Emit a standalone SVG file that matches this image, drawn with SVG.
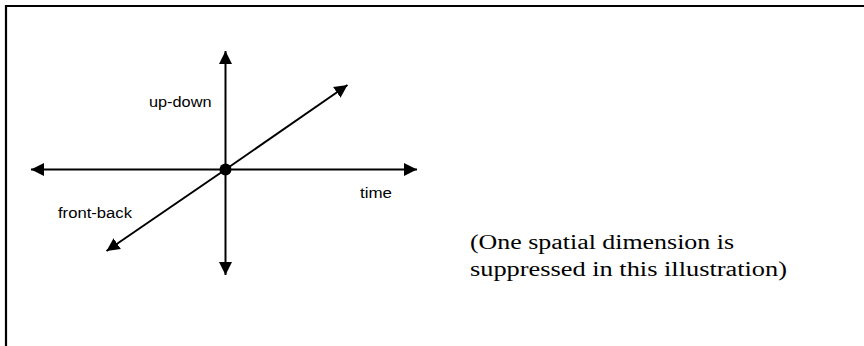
<svg xmlns="http://www.w3.org/2000/svg" width="864" height="346" viewBox="0 0 864 346">
  <defs>
    <style>
      .axis { stroke: #000; stroke-width: 2; fill: none; marker-end: url(#arrow); }
      .lbl { font-family: "Liberation Sans", Arial, sans-serif; font-size: 15.5px; fill: #000; }
      .note { font-family: "Liberation Serif", "Times New Roman", serif; font-size: 20.5px; fill: #000; }
    </style>
    <marker id="arrow" markerUnits="userSpaceOnUse" markerWidth="14" markerHeight="14" viewBox="0 0 14 14" refX="13" refY="7" orient="auto">
      <path d="M0,0.5 L13,7 L0,13.5 Z" fill="#000"/>
    </marker>
  </defs>
  <rect width="864" height="346" fill="#fff"/>
  <g id="frame">
    <path d="M6 348 V6 H866" stroke="#000" stroke-width="2.2" fill="none"/>
  </g>
  <g id="connectors">
    <line class="axis" x1="225.5" y1="169.5" x2="417" y2="169.5"/>
    <line class="axis" x1="225.5" y1="169.5" x2="31" y2="169.5"/>
    <line class="axis" x1="225.5" y1="169.5" x2="225.5" y2="51"/>
    <line class="axis" x1="225.5" y1="169.5" x2="225.5" y2="275"/>
    <line class="axis" x1="225.5" y1="169.5" x2="347.5" y2="85"/>
    <line class="axis" x1="225.5" y1="169.5" x2="106.5" y2="251"/>
  </g>
  <g id="origin">
    <circle cx="225.5" cy="169.5" r="6" fill="#000"/>
  </g>
  <g id="label-updown">
    <text class="lbl" x="149" y="106.5" textLength="62.5" lengthAdjust="spacingAndGlyphs">up-down</text>
  </g>
  <g id="label-frontback">
    <text class="lbl" x="58" y="217.5" textLength="74" lengthAdjust="spacingAndGlyphs">front-back</text>
  </g>
  <g id="label-time">
    <text class="lbl" x="360" y="197.5" textLength="32" lengthAdjust="spacingAndGlyphs">time</text>
  </g>
  <g id="note">
    <text class="note" x="470" y="249" textLength="264" lengthAdjust="spacingAndGlyphs">(One spatial dimension is</text>
    <text class="note" x="470" y="276" textLength="317" lengthAdjust="spacingAndGlyphs">suppressed in this illustration)</text>
  </g>
</svg>
